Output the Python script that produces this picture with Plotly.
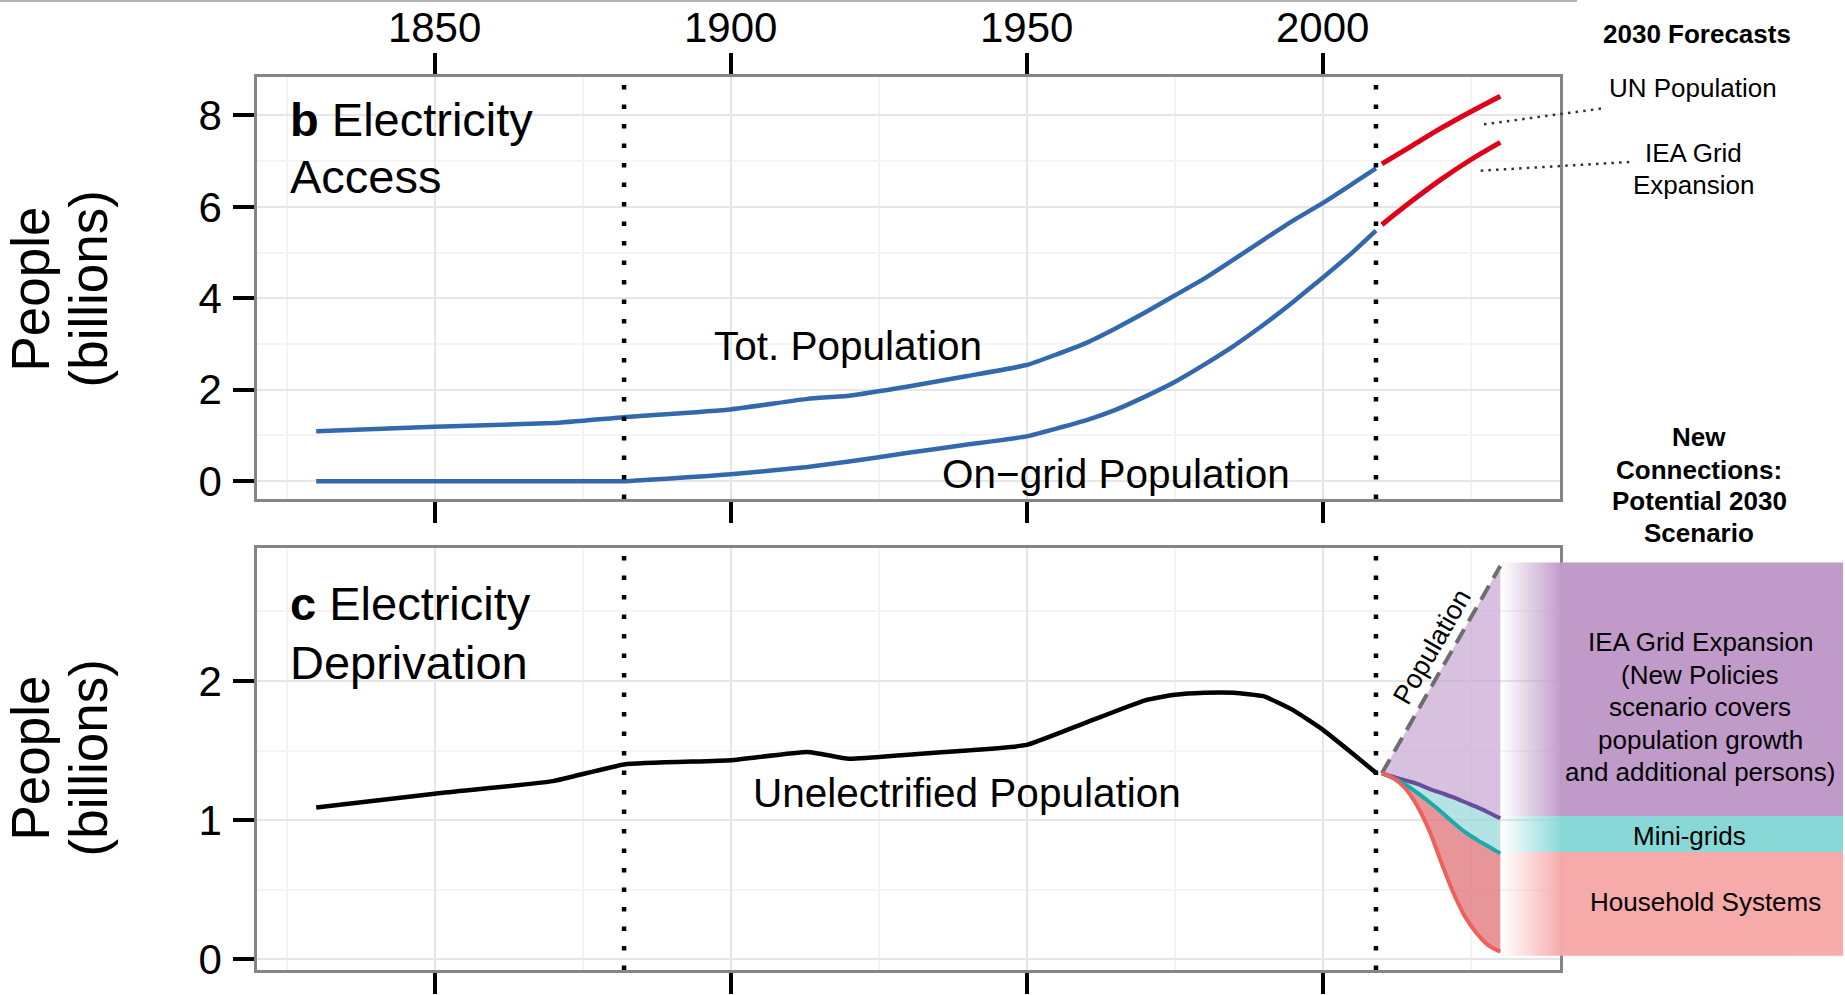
import plotly.graph_objects as go

# ---------------- data ----------------
years_hist = [1830, 1850, 1870, 1882, 1900, 1913, 1920, 1930, 1940, 1950,
              1955, 1960, 1965, 1970, 1975, 1980, 1985, 1990, 1995, 2000, 2005, 2009]
total_population = [1.09, 1.19, 1.27, 1.40, 1.57, 1.80, 1.87, 2.07, 2.30, 2.54,
                    2.77, 3.02, 3.34, 3.69, 4.06, 4.43, 4.85, 5.28, 5.70, 6.08, 6.50, 6.84]
ongrid_population = [0.0, 0.0, 0.0, 0.0, 0.15, 0.31, 0.43, 0.62, 0.80, 0.98,
                     1.15, 1.33, 1.56, 1.85, 2.17, 2.55, 2.96, 3.42, 3.92, 4.45, 5.00, 5.48]

years_unelec = [1830, 1850, 1870, 1882, 1900, 1913, 1920, 1930, 1940, 1950,
                1960, 1970, 1975, 1980, 1985, 1990, 1995, 2000, 2005, 2009]
unelectrified = [1.09, 1.19, 1.28, 1.40, 1.43, 1.49, 1.44, 1.47, 1.50, 1.54,
                 1.70, 1.86, 1.90, 1.915, 1.915, 1.89, 1.79, 1.65, 1.48, 1.34]

years_forecast = [2010, 2015, 2020, 2025, 2030]
un_population = [6.94, 7.33, 7.72, 8.08, 8.42]
iea_grid_population = [5.61, 6.12, 6.60, 7.03, 7.41]

years_scenario = [2010, 2012, 2014, 2016, 2018, 2020, 2022, 2024, 2026, 2028, 2030]
grid_expansion = [1.336, 1.31, 1.285, 1.26, 1.225, 1.195, 1.165, 1.13, 1.095, 1.055, 1.013]
minigrids = [1.336, 1.30, 1.255, 1.195, 1.13, 1.06, 0.985, 0.915, 0.86, 0.81, 0.761]
household = [1.336, 1.30, 1.225, 1.10, 0.925, 0.70, 0.485, 0.31, 0.187, 0.10, 0.055]
years_popline = [2010, 2030]
population_line = [1.336, 2.826]

band_names = ["IEA Grid Expansion", "Mini-grids", "Household Systems"]
band_top = [2.85, 1.03, 0.77]
band_bottom = [1.03, 0.77, 0.025]

milestone_years = [1882, 2009]

# ---------------- styling ----------------
FONT = "Liberation Sans, Arial, Helvetica, sans-serif"
BLUE = "#3468AC"
RED = "#E0001A"
PURPLE_L = "#6A4C9C"
TEAL_L = "#19AAAA"
RED_L = "#F0605A"
PURPLE_F = "rgba(200,165,210,0.70)"
TEAL_F = "rgba(150,215,215,0.70)"
RED_F = "rgba(222,104,110,0.70)"
BAND_RGB = [(192, 154, 201), (136, 216, 216), (246, 170, 170)]
GRID = "#E6E6E6"
MINOR = "#F4F4F4"
FRAME = "#858585"

W_FIG, H_FIG = 1845, 995
# plot area in page pixel coordinates
PL, PR, PT, PB = 257, 1845, 77, 970
PW, PH = PR - PL, PB - PT


def px_x(px):
    return (px - PL) / PW


def px_y(py):
    return (PB - py) / PH


x_dom = [0, px_x(1559.5)]
y_top_dom = [px_y(499), 1]
y_bot_dom = [0, px_y(547.7)]
x_band_dom = [px_x(1501.5), px_x(1843.3)]

fig = go.Figure()

# ---- top panel ----
for yv in (total_population, ongrid_population):
    fig.add_trace(go.Scatter(x=years_hist, y=yv, mode="lines",
                             line=dict(color=BLUE, width=4.5, shape="spline", smoothing=0.4),
                             xaxis="x", yaxis="y", hoverinfo="skip"))
for yv in (un_population, iea_grid_population):
    fig.add_trace(go.Scatter(x=years_forecast, y=yv, mode="lines",
                             line=dict(color=RED, width=5, shape="spline"),
                             xaxis="x", yaxis="y", hoverinfo="skip"))

# ---- bottom panel ----
fig.add_trace(go.Scatter(x=years_unelec, y=unelectrified, mode="lines",
                         line=dict(color="black", width=4.5, shape="spline", smoothing=0.4),
                         xaxis="x2", yaxis="y2", hoverinfo="skip"))
fig.add_trace(go.Scatter(x=years_scenario, y=grid_expansion, mode="lines",
                         line=dict(width=0, shape="spline"),
                         xaxis="x2", yaxis="y2", hoverinfo="skip"))
fig.add_trace(go.Scatter(x=years_popline, y=population_line, mode="lines",
                         fill="tonexty", fillcolor=PURPLE_F,
                         line=dict(color="#6E6E6E", width=4, dash="16px,9px"),
                         xaxis="x2", yaxis="y2", hoverinfo="skip"))
fig.add_trace(go.Scatter(x=years_scenario, y=minigrids, mode="lines",
                         line=dict(width=0, shape="spline"),
                         xaxis="x2", yaxis="y2", hoverinfo="skip"))
fig.add_trace(go.Scatter(x=years_scenario, y=grid_expansion, mode="lines",
                         fill="tonexty", fillcolor=TEAL_F,
                         line=dict(color=PURPLE_L, width=4, shape="spline"),
                         xaxis="x2", yaxis="y2", hoverinfo="skip"))
fig.add_trace(go.Scatter(x=years_scenario, y=household, mode="lines",
                         line=dict(width=0, shape="spline"),
                         xaxis="x2", yaxis="y2", hoverinfo="skip"))
fig.add_trace(go.Scatter(x=years_scenario, y=minigrids, mode="lines",
                         fill="tonexty", fillcolor=RED_F,
                         line=dict(color=TEAL_L, width=4, shape="spline"),
                         xaxis="x2", yaxis="y2", hoverinfo="skip"))
fig.add_trace(go.Scatter(x=years_scenario, y=household, mode="lines",
                         line=dict(color=RED_L, width=4, shape="spline"),
                         xaxis="x2", yaxis="y2", hoverinfo="skip"))

# ---- scenario bands (gradient boxes) ----
for name, top, bot, (r, g, b) in zip(band_names, band_top, band_bottom, BAND_RGB):
    fig.add_trace(go.Scatter(
        x=[0, 1, 1, 0, 0], y=[bot, bot, top, top, bot], mode="lines",
        fill="toself", line=dict(width=0),
        fillgradient=dict(type="horizontal",
                          colorscale=[[0, f"rgba({r},{g},{b},0)"],
                                      [0.18, f"rgba({r},{g},{b},1)"],
                                      [1, f"rgba({r},{g},{b},1)"]]),
        xaxis="x3", yaxis="y3", hoverinfo="skip", name=name))

axis_common = dict(
    showline=True, linecolor=FRAME, linewidth=2.5,
    ticks="outside", ticklen=21, tickwidth=4, tickcolor="black",
    showgrid=True, gridcolor=GRID, gridwidth=2, zeroline=False,
    tickfont=dict(size=42, color="black", family=FONT),
)

fig.update_layout(
    width=W_FIG, height=H_FIG, autosize=False,
    margin=dict(l=PL, r=W_FIG - PR, t=PT, b=H_FIG - PB, pad=0),
    paper_bgcolor="white", plot_bgcolor="rgba(0,0,0,0)",
    showlegend=False, font=dict(family=FONT, color="black"),
    xaxis=dict(axis_common, domain=x_dom, range=[1820, 2040], anchor="y",
               side="top", tickmode="linear", tick0=1850, dtick=50, mirror="ticks",
               ticklabelstandoff=-6,
               minor=dict(dtick=25, tick0=1825, showgrid=True, gridcolor=MINOR, gridwidth=2)),
    yaxis=dict(axis_common, domain=y_top_dom, range=[-0.39, 8.84], anchor="x",
               tickmode="linear", tick0=0, dtick=2, mirror=True, ticklabelstandoff=3,
               minor=dict(dtick=1, tick0=0, showgrid=True, gridcolor=MINOR, gridwidth=2)),
    xaxis2=dict(axis_common, domain=x_dom, range=[1820, 2040], anchor="y2",
                tickmode="linear", tick0=1850, dtick=50, mirror=True,
                showticklabels=False,
                minor=dict(dtick=25, tick0=1825, showgrid=True, gridcolor=MINOR, gridwidth=2)),
    yaxis2=dict(axis_common, domain=y_bot_dom, range=[-0.077, 2.957], anchor="x2",
                tickmode="linear", tick0=0, dtick=1, mirror=True, ticklabelstandoff=3,
                minor=dict(dtick=0.5, tick0=0, showgrid=True, gridcolor=MINOR, gridwidth=2)),
    xaxis3=dict(domain=x_band_dom, range=[0, 1], anchor="y3", visible=False,
                showgrid=False, zeroline=False),
    yaxis3=dict(domain=y_bot_dom, range=[-0.077, 2.957], anchor="x3", visible=False,
                showgrid=False, zeroline=False),
)

# ---- milestone dotted lines ----
shapes = []
for yr in milestone_years:
    for xr, yr_ref in (("x", "y domain"), ("x2", "y2 domain")):
        shapes.append(dict(type="line", xref=xr, yref=yr_ref, x0=yr, x1=yr, y0=0, y1=1,
                           line=dict(color="black", width=4.5, dash="4.5px,15px")))
# leader lines for forecasts
for (x0, y0, x1, y1) in ((1484, 124.3, 1604, 108.2), (1480.7, 170.7, 1633, 161.8)):
    shapes.append(dict(type="line", xref="paper", yref="paper",
                       x0=px_x(x0), y0=px_y(y0), x1=px_x(x1), y1=px_y(y1),
                       line=dict(color="#333333", width=2.5, dash="2.5px,5.2px")))
# thin rule at the top edge
shapes.append(dict(type="line", xref="paper", yref="paper",
                   x0=px_x(0), x1=px_x(1577), y0=px_y(1), y1=px_y(1),
                   line=dict(color="#B4B4B4", width=2)))
fig.update_layout(shapes=shapes)

ann = []


def txt(text, cx, cy, size, anchor="center", angle=0, bold=False):
    if bold:
        text = f"<b>{text}</b>"
    ann.append(dict(text=text, x=px_x(cx), y=px_y(cy), xref="paper", yref="paper",
                    xanchor=anchor, yanchor="middle", showarrow=False,
                    textangle=angle, font=dict(size=size, family=FONT, color="black")))


# axis titles
for cy in (289.5, 758.5):
    txt("People", 30, cy, 53, angle=-90)
    txt("(billions)", 88, cy, 53, angle=-90)

# panel titles
txt("<b>b</b> Electricity", 288, 120, 47, anchor="left")
txt("Access", 288, 177, 47, anchor="left")
txt("<b>c</b> Electricity", 288, 603, 47, anchor="left")
txt("Deprivation", 288, 662, 47, anchor="left")

# series labels
txt("Tot. Population", 847.5, 345.5, 40.5)
txt("On\u2212grid Population", 1115.6, 474.5, 40.5)
txt("Unelectrified Population", 967.2, 792.5, 40.5)
txt("Population", 1431.7, 646.7, 27, angle=-60)

# right side
txt("2030 Forecasts", 1697, 34, 26, bold=True)
txt("UN Population", 1693, 88.4, 26)
txt("IEA Grid", 1693, 152.7, 26)
txt("Expansion", 1693, 184.8, 26)
for line, cy in zip(["New", "Connections:", "Potential 2030", "Scenario"],
                    [437.5, 469.6, 501.4, 533]):
    txt(line, 1699, cy, 26, bold=True)
for line, cy in zip(["IEA Grid Expansion", "(New Policies", "scenario covers",
                     "population growth", "and additional persons)"],
                    [642, 674.5, 707, 739.5, 772]):
    txt(line, 1700, cy, 26)
txt("Mini-grids", 1689, 835.8, 26)
txt("Household Systems", 1705, 901.7, 26)

fig.update_layout(annotations=ann)

fig.write_html("out.html",
               config={"displayModeBar": False},
               post_script="document.body.style.margin='0px';"
                           "document.documentElement.style.overflow='hidden';")
